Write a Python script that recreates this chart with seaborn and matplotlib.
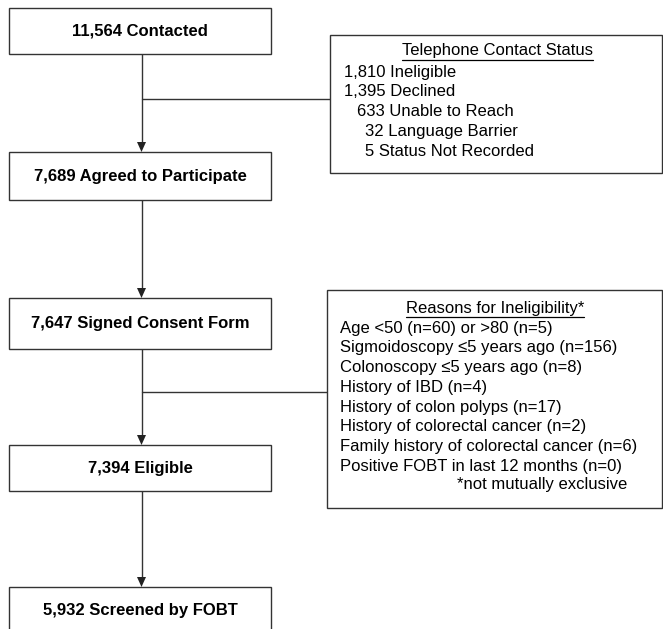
import matplotlib
matplotlib.use("Agg")
import matplotlib.pyplot as plt
from matplotlib.patches import Rectangle, Polygon
import seaborn as sns

# ---- data ----
main_counts = [11564, 7689, 7647, 7394, 5932]
main_labels = ["Contacted", "Agreed to Participate", "Signed Consent Form",
               "Eligible", "Screened by FOBT"]

phone_title = "Telephone Contact Status"
phone_counts = [1810, 1395, 633, 32, 5]
phone_labels = ["Ineligible", "Declined", "Unable to Reach",
                "Language Barrier", "Status Not Recorded"]

reasons_title = "Reasons for Ineligibility*"
reasons = [
    "Age <50 (n=60) or >80 (n=5)",
    "Sigmoidoscopy \u22645 years ago (n=156)",
    "Colonoscopy \u22645 years ago (n=8)",
    "History of IBD (n=4)",
    "History of colon polyps (n=17)",
    "History of colorectal cancer (n=2)",
    "Family history of colorectal cancer (n=6)",
    "Positive FOBT in last 12 months (n=0)",
]
reasons_note = "*not mutually exclusive"

# ---- style ----
sns.set_theme(style="white")
plt.rcParams["font.family"] = ["Liberation Sans", "DejaVu Sans"]

W, H = 663, 629
fig = plt.figure(figsize=(W / 100, H / 100), dpi=100)
ax = fig.add_axes([0, 0, 1, 1])
ax.set_xlim(0, W)
ax.set_ylim(H, 0)
ax.axis("off")
sns.despine(ax=ax, left=True, bottom=True)

EC = "#333333"
LW = 1.0
FS = 12

# main boxes (x0, x1, y0, y1)
box_x0, box_x1 = 9, 271
box_y = [(8, 54), (152, 200), (298, 349), (445, 491), (587, 640)]
cx = 141.5

for (y0, y1), n, lab in zip(box_y, main_counts, main_labels):
    ax.add_patch(Rectangle((box_x0, y0), box_x1 - box_x0, y1 - y0,
                           fill=True, facecolor="white", edgecolor=EC, lw=LW, zorder=3))
    yc = (y0 + y1) / 2 if y1 < H else 610
    ax.text((box_x0 + box_x1) / 2, yc, f"{n:,} {lab}", ha="center", va="center",
            fontsize=FS, fontweight="bold", color="black", zorder=4)

# arrows between boxes
def arrow(x, ya, yb):
    ax.plot([x, x], [ya, yb - 9], color=EC, lw=LW, zorder=2)
    ax.add_patch(Polygon([[x - 4.5, yb - 10], [x + 4.5, yb - 10], [x, yb]],
                         closed=True, facecolor="#222222", edgecolor="none", zorder=3))

for i in range(len(box_y) - 1):
    arrow(cx, box_y[i][1], box_y[i + 1][0])

# side boxes
r1 = (330, 662, 35, 173)
r2 = (327, 662, 290, 508)
for (x0, x1, y0, y1) in (r1, r2):
    ax.add_patch(Rectangle((x0, y0), x1 - x0, y1 - y0, facecolor="white",
                           edgecolor=EC, lw=LW, zorder=3))

# connectors
ax.plot([cx, r1[0]], [99, 99], color=EC, lw=LW, zorder=2)
ax.plot([cx, r2[0]], [392, 392], color=EC, lw=LW, zorder=2)

renderer = fig.canvas.get_renderer()
inv = ax.transData.inverted()

def underlined_title(x, y, s, uy):
    t = ax.text(x, y, s, ha="center", va="center", fontsize=FS, color="black", zorder=4)
    bb = t.get_window_extent(renderer=renderer)
    (xa, _), (xb, _) = inv.transform([[bb.x0, bb.y0], [bb.x1, bb.y1]])
    ax.plot([xa, xb], [uy, uy], color="black", lw=0.9, zorder=4)

# telephone contact status
underlined_title(497, 51, phone_title, 60)
phone_x = [344, 344, 357, 365, 365]
for i, (n, lab) in enumerate(zip(phone_counts, phone_labels)):
    ax.text(phone_x[i], 72 + 19.8 * i, f"{n:,} {lab}", ha="left", va="center",
            fontsize=FS, color="black", zorder=4)

# reasons for ineligibility
underlined_title(495, 308, reasons_title, 316.5)
for i, s in enumerate(reasons):
    ax.text(340, 328 + 19.8 * i, s, ha="left", va="center",
            fontsize=FS, color="black", zorder=4)
ax.text(627, 485, reasons_note, ha="right", va="center",
        fontsize=FS, color="black", zorder=4)

fig.savefig("out.png", dpi=100, facecolor="white")
